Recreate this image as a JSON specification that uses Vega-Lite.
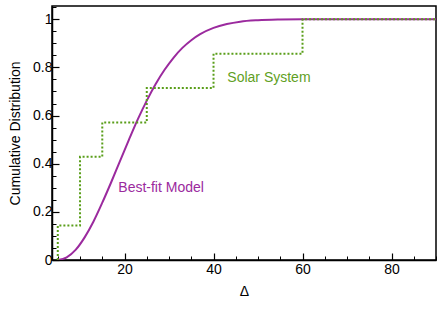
{
  "$schema": "https://vega.github.io/schema/vega-lite/v6.json",
  "width": 384,
  "height": 254,
  "autosize": "none",
  "padding": {"left": 52, "top": 6, "right": 7, "bottom": 53},
  "background": "white",
  "config": {
    "view": {"stroke": "black", "strokeWidth": 1.5},
    "axis": {"grid": false, "labelFont": "Liberation Sans", "titleFont": "Liberation Sans", "labelFontSize": 14, "titleFontSize": 14, "titleFontWeight": "normal", "labelColor": "black", "titleColor": "black", "domainColor": "black", "tickColor": "black", "domainWidth": 1.5}
  },
  "datasets": {
    "model": [
      {"d": 5, "F": 0}, {"d": 7, "F": 0.011}, {"d": 9, "F": 0.042}, {"d": 11, "F": 0.093},
      {"d": 13, "F": 0.159}, {"d": 15, "F": 0.238}, {"d": 17, "F": 0.323}, {"d": 19, "F": 0.412},
      {"d": 21, "F": 0.5}, {"d": 23, "F": 0.585}, {"d": 25, "F": 0.662}, {"d": 27, "F": 0.731},
      {"d": 29, "F": 0.79}, {"d": 31, "F": 0.84}, {"d": 33, "F": 0.881}, {"d": 35, "F": 0.913},
      {"d": 37, "F": 0.938}, {"d": 40, "F": 0.964}, {"d": 43, "F": 0.98}, {"d": 46, "F": 0.99},
      {"d": 50, "F": 0.996}, {"d": 55, "F": 0.999}, {"d": 60, "F": 1.0}, {"d": 90, "F": 1.0}
    ],
    "solar": [
      {"d": 5, "F": 0}, {"d": 5, "F": 0.1429}, {"d": 10, "F": 0.4286}, {"d": 15, "F": 0.5714},
      {"d": 25, "F": 0.7143}, {"d": 40, "F": 0.8571}, {"d": 60, "F": 1.0}, {"d": 90, "F": 1.0}
    ],
    "labels": [
      {"d": 43.1, "F": 0.757, "text": "Solar System", "series": "solar"},
      {"d": 18.6, "F": 0.297, "text": "Best-fit Model", "series": "model"}
    ]
  },
  "resolve": {"axis": {"x": "independent", "y": "independent"}},
  "layer": [
    {
      "data": {"name": "model"},
      "mark": {"type": "line", "color": "#9b2a9e", "strokeWidth": 2, "interpolate": "monotone", "clip": true},
      "encoding": {
        "x": {"field": "d", "type": "quantitative", "scale": {"domain": [3.7, 90], "nice": false, "zero": false},
          "axis": {"values": [20, 40, 60, 80], "tickSize": -7, "tickWidth": 1.2, "labelPadding": 9, "title": "Δ", "titlePadding": 8, "orient": "bottom"}},
        "y": {"field": "F", "type": "quantitative", "scale": {"domain": [0, 1.055], "nice": false, "zero": false},
          "axis": {"values": [0, 0.2, 0.4, 0.6, 0.8, 1], "labelExpr": "toString(datum.value)", "tickSize": -7, "tickWidth": 1.2, "labelPadding": 7, "title": "Cumulative Distribution", "titlePadding": 10, "orient": "left"}}
      }
    },
    {
      "data": {"name": "solar"},
      "mark": {"type": "line", "color": "#5a9e1a", "strokeWidth": 2, "strokeDash": [2, 2], "interpolate": "step-after", "clip": true},
      "encoding": {
        "x": {"field": "d", "type": "quantitative",
          "axis": {"values": [5, 10, 15, 25, 30, 35, 45, 50, 55, 65, 70, 75, 85, 90], "labels": false, "tickSize": -4, "tickWidth": 1, "domain": false, "title": null, "orient": "bottom"}},
        "y": {"field": "F", "type": "quantitative",
          "axis": {"values": [0.05, 0.1, 0.15, 0.25, 0.3, 0.35, 0.45, 0.5, 0.55, 0.65, 0.7, 0.75, 0.85, 0.9, 0.95, 1.05], "labels": false, "tickSize": -4, "tickWidth": 1, "domain": false, "title": null, "orient": "left"}}
      }
    },
    {
      "data": {"name": "labels"},
      "mark": {"type": "text", "align": "left", "baseline": "middle", "font": "Liberation Sans", "fontSize": 14},
      "encoding": {
        "x": {"field": "d", "type": "quantitative", "axis": null},
        "y": {"field": "F", "type": "quantitative", "axis": null},
        "text": {"field": "text"},
        "color": {"field": "series", "type": "nominal", "scale": {"domain": ["solar", "model"], "range": ["#5f9f24", "#9b2a9e"]}, "legend": null}
      }
    }
  ]
}
